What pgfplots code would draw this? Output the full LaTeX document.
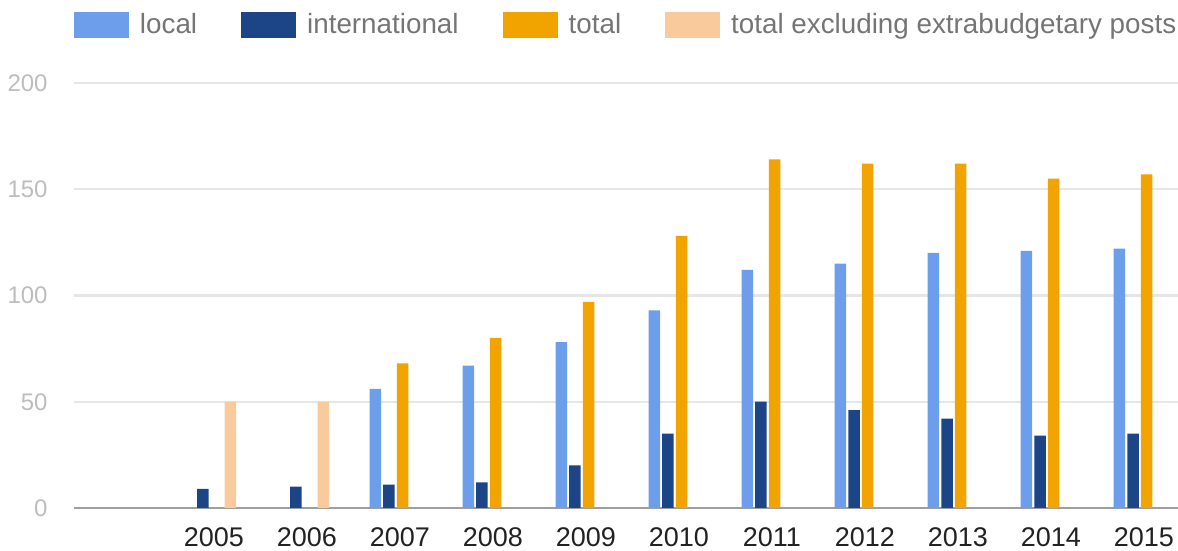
\documentclass[border=0pt]{standalone}
\usepackage{fontspec}
\setmainfont{Liberation Sans}
\usepackage{pgfplots}
\pgfplotsset{compat=1.18}
\definecolor{cLocal}{HTML}{6D9EEB}
\definecolor{cIntl}{HTML}{1C4587}
\definecolor{cTotal}{HTML}{F1A300}
\definecolor{cExcl}{HTML}{F9CB9C}
\definecolor{cGrid}{HTML}{E6E6E6}
\definecolor{cZero}{HTML}{9E9E9E}
\definecolor{cYlab}{HTML}{BDBDBD}
\definecolor{cXlab}{HTML}{222222}
\definecolor{cLeg}{HTML}{757575}
\begin{document}
\begin{tikzpicture}
\begin{axis}[
  name=ax,
  scale only axis,
  width=552pt, height=212.5pt,
  xmin=2003.54, xmax=2015.41,
  ymin=0, ymax=200,
  ybar=1.1pt, bar width=5.75pt,
  axis line style={draw=none},
  tick style={draw=none},
  xtick={2005,2006,2007,2008,2009,2010,2011,2012,2013,2014,2015},
  ytick={50,100,150,200},
  extra y ticks={0},
  extra y tick style={grid=major, major grid style={cZero, line width=1.3pt}},
  ymajorgrids, major grid style={cGrid, line width=1.2pt},
  /pgf/number format/assume math mode=true,
  /pgf/number format/1000 sep={},
  xticklabel style={font=\fontsize{13.5}{16}\selectfont, color=cXlab, anchor=north, inner sep=0pt, yshift=-5.5pt, xshift=2pt},
  yticklabel style={font=\fontsize{12}{14}\selectfont, color=cYlab, anchor=east, inner sep=0pt, xshift=-13pt},
  legend columns=4,
  legend style={draw=none, fill=none, at={(axis description cs:0,1)}, anchor=west, yshift=29pt, inner sep=0pt, outer sep=0pt, font=\fontsize{13.9}{17}\selectfont, text=cLeg, nodes={inner sep=0pt}, /tikz/every odd column/.append style={column sep=5.5pt}, /tikz/every even column/.append style={column sep=22pt}},
  legend image code/.code={\fill[#1,draw=none] (0pt,-6.5pt) rectangle (27.5pt,6.5pt);},
]
\addplot[fill=cLocal, draw=none] coordinates {(2007,56) (2008,67) (2009,78) (2010,93) (2011,112) (2012,115) (2013,120) (2014,121) (2015,122)};
\addlegendentry{local}
\addplot[fill=cIntl, draw=none] coordinates {(2005,9) (2006,10) (2007,11) (2008,12) (2009,20) (2010,35) (2011,50) (2012,46) (2013,42) (2014,34) (2015,35)};
\addlegendentry{international}
\addplot[fill=cTotal, draw=none] coordinates {(2007,68) (2008,80) (2009,97) (2010,128) (2011,164) (2012,162) (2013,162) (2014,155) (2015,157)};
\addlegendentry{total}
\addplot[fill=cExcl, draw=none] coordinates {(2005,50) (2006,50)};
\addlegendentry{total excluding extrabudgetary posts}
\end{axis}
\pgfresetboundingbox
\path ([shift={(-37pt,-21.5pt)}]ax.south west) rectangle ([shift={(0pt,41.5pt)}]ax.north east);
\end{tikzpicture}
\end{document}
